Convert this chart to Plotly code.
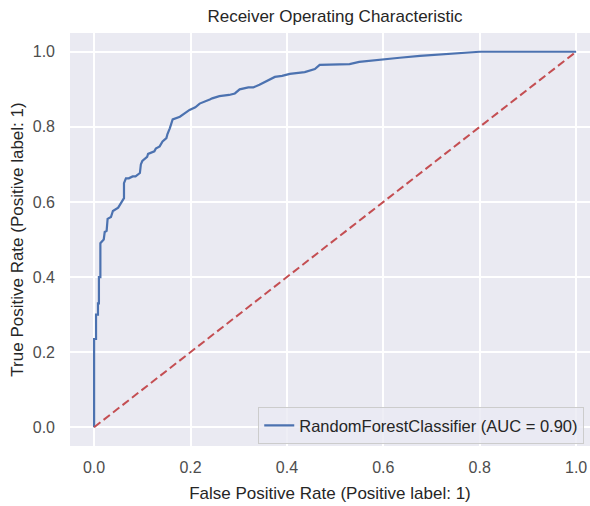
import plotly.graph_objects as go

# ROC curve points
fpr = [0.0, 0.0, 0.004, 0.004, 0.008, 0.008, 0.010, 0.010, 0.013, 0.013, 0.020, 0.022,
       0.026, 0.028, 0.035, 0.039, 0.050, 0.057, 0.062, 0.062, 0.066, 0.072, 0.080,
       0.086, 0.095, 0.097, 0.100, 0.110, 0.112, 0.125, 0.128, 0.136, 0.142, 0.150,
       0.152, 0.157, 0.163, 0.178, 0.190, 0.198, 0.210, 0.219, 0.240, 0.245, 0.260,
       0.280, 0.292, 0.302, 0.320, 0.330, 0.343, 0.360, 0.375, 0.390, 0.406, 0.437,
       0.458, 0.468, 0.530, 0.550, 0.589, 0.634, 0.676, 0.738, 0.800, 1.0]
tpr = [0.0, 0.235, 0.235, 0.300, 0.300, 0.330, 0.330, 0.400, 0.400, 0.490, 0.500, 0.520,
       0.523, 0.555, 0.560, 0.576, 0.585, 0.602, 0.610, 0.650, 0.663, 0.663, 0.668,
       0.668, 0.677, 0.700, 0.709, 0.720, 0.728, 0.735, 0.742, 0.748, 0.761, 0.770,
       0.780, 0.796, 0.820, 0.827, 0.838, 0.845, 0.852, 0.862, 0.873, 0.876, 0.882,
       0.885, 0.889, 0.900, 0.905, 0.905, 0.912, 0.922, 0.933, 0.936, 0.941, 0.946,
       0.954, 0.965, 0.967, 0.973, 0.979, 0.984, 0.989, 0.995, 1.000, 1.000]
chance_x = [0.0, 1.0]
chance_y = [0.0, 1.0]
tick_vals = [0.0, 0.2, 0.4, 0.6, 0.8, 1.0]
tick_text = ["0.0", "0.2", "0.4", "0.6", "0.8", "1.0"]

legend_label = "RandomForestClassifier (AUC = 0.90)"
title_text = "Receiver Operating Characteristic"
x_label = "False Positive Rate (Positive label: 1)"
y_label = "True Positive Rate (Positive label: 1)"

fig = go.Figure()
fig.add_trace(go.Scatter(x=fpr, y=tpr, mode="lines", name=legend_label,
                         line=dict(color="#4c72b0", width=2.2)))
fig.add_trace(go.Scatter(x=chance_x, y=chance_y, mode="lines", showlegend=False,
                         line=dict(color="#c44e52", width=2, dash="8px,4px")))

font = "Liberation Sans, Arial, sans-serif"
fig.update_layout(
    width=590, height=506,
    margin=dict(l=70, r=0, t=33, b=60),
    paper_bgcolor="white",
    plot_bgcolor="#eaeaf2",
    font=dict(family=font, size=16, color="#262626"),
    title=dict(text=title_text, xref="container", yref="container",
               x=335 / 590, y=1 - 16 / 506, xanchor="center", yanchor="middle",
               font=dict(size=17, color="#262626")),
    legend=dict(x=0.362, y=0.094, xanchor="left", yanchor="top",
                bgcolor="rgba(234,234,242,0.8)", bordercolor="#cccccc", borderwidth=1,
                font=dict(size=16.5, color="#262626")),
    showlegend=True,
)
fig.update_xaxes(range=[-0.05, 1.0288], tickvals=tick_vals, ticktext=tick_text,
                 showgrid=True, gridcolor="white", gridwidth=1.5, zeroline=False,
                 showline=False, ticks="", ticklabelstandoff=10,
                 title=dict(text=x_label, font=dict(size=17), standoff=12),
                 tickfont=dict(size=16, color="#4d4d4d"))
fig.update_yaxes(range=[-0.05, 1.05], tickvals=tick_vals, ticktext=tick_text,
                 showgrid=True, gridcolor="white", gridwidth=1.5, zeroline=False,
                 showline=False, ticks="", ticklabelstandoff=14,
                 title=dict(text=y_label, font=dict(size=17), standoff=4),
                 tickfont=dict(size=16, color="#4d4d4d"))

fig.write_html("out.html")
